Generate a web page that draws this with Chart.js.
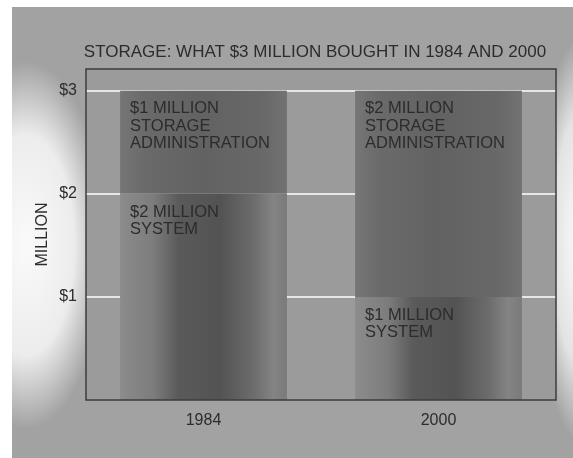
<!DOCTYPE html>
<html>
<head>
<meta charset="utf-8">
<script src="https://cdn.jsdelivr.net/npm/chart.js@4"></script>
<style>
  html, body { margin: 0; padding: 0; background: #fff; }
  #wrap { width: 573px; height: 458px; }
</style>
</head>
<body>
<div id="wrap"><canvas id="chart-storage"></canvas></div>
<script>
// Stacked spend per year, in $ million
const years = ['1984', '2000'];
const systemSpend = [2, 1];
const storageAdminSpend = [1, 2];
const tickValues = [1, 2, 3];
const tickLabels = ['$1', '$2', '$3'];
const systemLines = ['SYSTEM'];
const storageAdminLines = ['STORAGE', 'ADMINISTRATION'];
const chartTitle = 'STORAGE: WHAT $3 MILLION BOUGHT IN 1984 AND 2000';
const axisTitle = 'MILLION';

const FONT = 'Liberation Sans, Arial, Helvetica, sans-serif';
const INK = '#2c2c2c';
const BAR_PCT = 0.71;

// horizontal shading across a bar, stops are [offset, colour]
function barShade(stops) {
  return (ctx) => {
    const chart = ctx.chart;
    if (!chart.chartArea || !chart.scales.x) return stops[2][1];
    const x = chart.scales.x;
    const w = (x.width / years.length) * BAR_PCT;
    const cx = x.getPixelForValue(ctx.dataIndex);
    const g = chart.ctx.createLinearGradient(cx - w / 2, 0, cx + w / 2, 0);
    stops.forEach(([o, c]) => g.addColorStop(o, c));
    return g;
  };
}

const systemStops = [
  [0, '#8c8c8c'], [0.2, '#7c7c7c'], [0.35, '#5a5a5a'],
  [0.6, '#535353'], [0.8, '#6c6c6c'], [0.92, '#848484'], [1, '#7a7a7a']
];
const adminStops = [
  [0, '#767676'], [0.15, '#6a6a6a'], [0.5, '#626262'],
  [0.85, '#686868'], [1, '#727272']
];

// page backdrop, plot panel and title
const backdrop = {
  id: 'backdrop',
  beforeDraw(chart) {
    const { ctx, chartArea: a, width, height } = chart;
    ctx.save();
    ctx.fillStyle = '#fff';
    ctx.fillRect(0, 0, width, height);
    ctx.fillStyle = '#a2a2a2';
    ctx.fillRect(12, 7, width - 12, height - 7);

    // pale patch behind the y axis
    ctx.save();
    ctx.translate(26, 245);
    ctx.scale(1, 2.3);
    let g = ctx.createRadialGradient(0, 0, 0, 0, 0, 80);
    g.addColorStop(0, 'rgba(255,255,255,0.95)');
    g.addColorStop(0.6, 'rgba(255,255,255,0.8)');
    g.addColorStop(1, 'rgba(255,255,255,0)');
    ctx.fillStyle = g;
    ctx.fillRect(-85, -85, 170, 170);
    ctx.restore();

    // pale patch on the right edge
    ctx.save();
    ctx.translate(578, 240);
    ctx.scale(1, 5);
    g = ctx.createRadialGradient(0, 0, 0, 0, 0, 40);
    g.addColorStop(0, 'rgba(255,255,255,0.95)');
    g.addColorStop(0.6, 'rgba(255,255,255,0.7)');
    g.addColorStop(1, 'rgba(255,255,255,0)');
    ctx.fillStyle = g;
    ctx.fillRect(-45, -45, 90, 90);
    ctx.restore();

    ctx.fillStyle = '#9b9b9b';
    ctx.fillRect(a.left, a.top, a.right - a.left, a.bottom - a.top);

    ctx.fillStyle = INK;
    ctx.font = '17px ' + FONT;
    ctx.textAlign = 'center';
    ctx.textBaseline = 'middle';
    ctx.fillText(chartTitle, 315, 52);
    ctx.restore();
  },
  afterDraw(chart) {
    const { ctx, chartArea: a } = chart;
    ctx.save();
    ctx.strokeStyle = '#3c3c3c';
    ctx.lineWidth = 1.5;
    ctx.strokeRect(a.left, a.top, a.right - a.left, a.bottom - a.top);
    ctx.restore();
  }
};

// amount written in the top-left corner of each segment
const segmentLabels = {
  id: 'segmentLabels',
  afterDatasetsDraw(chart) {
    const { ctx } = chart;
    ctx.save();
    ctx.fillStyle = INK;
    ctx.font = '16.5px ' + FONT;
    ctx.textAlign = 'left';
    ctx.textBaseline = 'top';
    chart.data.datasets.forEach((ds, i) => {
      chart.getDatasetMeta(i).data.forEach((bar, j) => {
        const { x, y, width } = bar.getProps(['x', 'y', 'width'], true);
        const lines = ['$' + ds.data[j] + ' MILLION'].concat(ds.extraLines);
        lines.forEach((t, k) => ctx.fillText(t, x - width / 2 + 10, y + 10 + k * 17.5));
      });
    });
    ctx.restore();
  }
};

new Chart(document.getElementById('chart-storage'), {
  type: 'bar',
  data: {
    labels: years,
    datasets: [
      { label: 'System', data: systemSpend, extraLines: systemLines,
        backgroundColor: barShade(systemStops) },
      { label: 'Storage administration', data: storageAdminSpend, extraLines: storageAdminLines,
        backgroundColor: barShade(adminStops) }
    ]
  },
  options: {
    responsive: true,
    maintainAspectRatio: false,
    animation: false,
    devicePixelRatio: 1,
    layout: { padding: { top: 69, right: 17, left: 0, bottom: 0 } },
    datasets: { bar: { barPercentage: BAR_PCT, categoryPercentage: 1, borderWidth: 0 } },
    plugins: { legend: { display: false }, tooltip: { enabled: false } },
    scales: {
      x: {
        stacked: true,
        grid: { display: false },
        border: { display: false },
        ticks: { color: INK, font: { family: FONT, size: 16 }, padding: 3 },
        afterFit(s) { s.height = 58; }
      },
      y: {
        stacked: true,
        min: 0,
        max: 3.21,
        afterBuildTicks(s) { s.ticks = tickValues.map(v => ({ value: v })); },
        ticks: {
          color: INK,
          font: { family: FONT, size: 16 },
          padding: 9,
          callback: (v) => tickLabels[tickValues.indexOf(v)]
        },
        grid: { color: '#e6e6e6', lineWidth: 2, drawTicks: false },
        border: { display: false },
        title: {
          display: true,
          text: axisTitle,
          color: INK,
          font: { family: FONT, size: 16 },
          padding: { top: 33, bottom: 0 }
        },
        afterFit(s) { s.width = 86; }
      }
    }
  },
  plugins: [backdrop, segmentLabels]
});
</script>
</body>
</html>
